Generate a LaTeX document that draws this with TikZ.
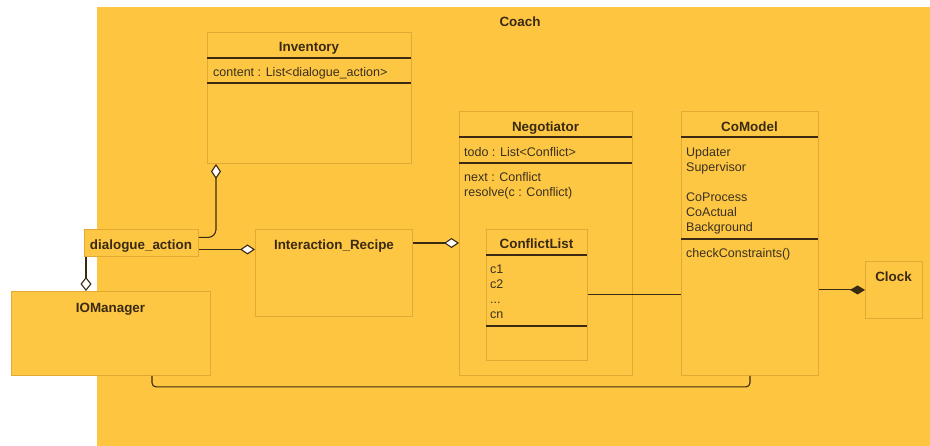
\documentclass[tikz,border=0pt]{standalone}
\usepackage{fontspec}
\setmainfont{Liberation Sans}
\usetikzlibrary{arrows.meta}
\definecolor{coachbg}{HTML}{FEC640}
\definecolor{boxfill}{HTML}{FDC743}
\definecolor{boxedge}{HTML}{E2AA34}
\definecolor{ink}{HTML}{3A2A12}
\definecolor{txt}{HTML}{3B3020}
\tikzset{
  umlbox/.style={draw=boxedge, fill=boxfill, line width=0.9pt, rectangle,
    anchor=north west, inner sep=0pt},
  title/.style={anchor=base, inner sep=0pt, text=ink,
    font=\fontsize{13.4}{15}\selectfont\bfseries},
  attr/.style={anchor=base west, inner sep=0pt, text=txt,
    font=\fontsize{12.5}{15}\selectfont},
  sep/.style={draw=ink, line width=1.2pt},
  link/.style={draw=ink, line width=1.1pt},
  agg/.style={link, -{Diamond[fill=white, length=15pt, width=10pt]}},
  aggv/.style={link, -{Diamond[fill=white, length=14pt, width=11pt]}},
  comp/.style={link, -{Diamond[fill=ink, length=15pt, width=9pt]}},
}
\begin{document}
\begin{tikzpicture}[x=1pt, y=-1pt]
\useasboundingbox (0,0) rectangle (930,446);
\fill[white] (0,0) rectangle (930,446);

% enclosing package
\fill[coachbg] (97,7) rectangle (930,446);
\node[title] (coach) at (520,26.5) {Coach};

% classes
\node[umlbox, minimum width=204pt, minimum height=131pt] (inv) at (207,32) {};
\node[umlbox, minimum width=173pt, minimum height=264pt] (neg) at (459,111) {};
\node[umlbox, minimum width=137pt, minimum height=264pt] (cm) at (681,111) {};
\node[umlbox, minimum width=101pt, minimum height=131pt] (cl) at (486,229) {};
\node[umlbox, minimum width=157pt, minimum height=87pt] (ir) at (255,229) {};
\node[umlbox, minimum width=199pt, minimum height=84pt] (io) at (11,291) {};
\node[umlbox, minimum width=114pt, minimum height=27pt] (dlg) at (84,229) {};
\node[umlbox, minimum width=57pt, minimum height=57pt] (clock) at (865,261) {};

% Inventory
\node[title] (invT) at (309,51.5) {Inventory};
\draw[sep] (207,58) -- (411,58);
\node[attr] (invA) at (213,76.5) {content : List<dialogue\_action>};
\draw[sep] (207,83) -- (411,83);

% Negotiator
\node[title] (negT) at (545.5,131.5) {Negotiator};
\draw[sep] (459,137) -- (632,137);
\node[attr] (negA) at (464,156.5) {todo : List<Conflict>};
\draw[sep] (459,163) -- (632,163);
\node[attr] (negM1) at (464,181.5) {next : Conflict};
\node[attr] (negM2) at (464,196.5) {resolve(c : Conflict)};

% CoModel
\node[title] (cmT) at (749.5,131.5) {CoModel};
\draw[sep] (681,137) -- (818,137);
\node[attr] (cm1) at (686,156.5) {Updater};
\node[attr] (cm2) at (686,171.5) {Supervisor};
\node[attr] (cm3) at (686,201.5) {CoProcess};
\node[attr] (cm4) at (686,216.5) {CoActual};
\node[attr] (cm5) at (686,231.5) {Background};
\draw[sep] (681,239) -- (818,239);
\node[attr] (cm6) at (686,257.5) {checkConstraints()};

% ConflictList
\node[title] (clT) at (536.5,248.5) {ConflictList};
\draw[sep] (486,255) -- (587,255);
\node[attr] (cl1) at (490,273.5) {c1};
\node[attr] (cl2) at (490,288.5) {c2};
\node[attr] (cl3) at (490,303.5) {...};
\node[attr] (cl4) at (490,318.5) {cn};
\draw[sep] (486,326) -- (587,326);

% single-compartment classes
\node[title] (irT) at (334,249.5) {Interaction\_Recipe};
\node[title] (ioT) at (110.5,312.5) {IOManager};
\node[title] (dlgT) at (141,249.5) {dialogue\_action};
\node[title] (clockT) at (893.5,281.5) {Clock};

% associations
\draw[agg, rounded corners=8pt] ([yshift=5.5pt]dlg.east) -| ([xshift=9pt]inv.south west);
\draw[agg] ([yshift=-6.5pt]dlg.east) -- ([yshift=-6.5pt]dlg.east -| ir.west);
\draw[agg] ([yshift=-14pt]ir.north east) -- ([yshift=-14pt]ir.north east -| neg.west);
\draw[aggv] ([xshift=2pt]dlg.south west) -- ([xshift=2pt]dlg.south west |- io.north);
\draw[link] (cl.east) -- (cl.east -| cm.west);
\draw[comp] (clock.west -| cm.east) -- (clock.west);
\draw[link, rounded corners=4pt] ([xshift=141pt]io.south west) -- ++(0,11) -| (cm.south);
\end{tikzpicture}
\end{document}
